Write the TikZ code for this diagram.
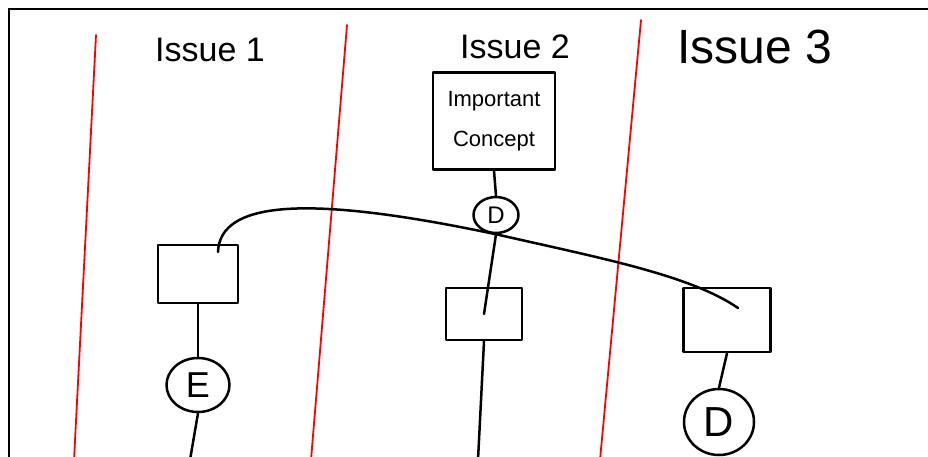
\documentclass[tikz,border=0pt]{standalone}
\usepackage{fontspec}
\setmainfont{Liberation Sans}
\usetikzlibrary{shapes.geometric}
\begin{document}
\begin{tikzpicture}[x=1pt,y=-1pt,
  ink/.style={line width=2.5pt,black,line cap=round,line join=round},
  divider/.style={line width=1.8pt,red,line cap=round},
  frame/.style={line width=1.5pt,black},
  sqbox/.style={draw,ink,rectangle,inner sep=0pt},
  circ/.style={draw,ink,ellipse,inner sep=0pt,font=\fontsize{36}{38}\selectfont},
  title/.style={font=\fontsize{34}{36}\selectfont,anchor=center}]
\useasboundingbox (0,0) rectangle (928,457);
% frame
\draw[frame] (9,470) -- (9,9) -- (940,9);
% red dividers
\draw[divider] (96,35) -- (74,460);
\draw[divider] (347,25) -- (311,460);
\draw[divider] (641,20) -- (600,460);
% titles
\node[title] (t1) at (210,50) {Issue 1};
\node[title] (t2) at (515,47) {Issue 2};
\node[title,font=\fontsize{48}{50}\selectfont] (t3) at (755,47) {Issue 3};
% important concept
\node[sqbox,minimum width=122pt,minimum height=97pt,align=center,
      font=\fontsize{22}{40}\selectfont] (concept) at (494,121) {Important\\Concept};
\node[circ,minimum width=45pt,minimum height=36pt,font=\fontsize{24}{26}\selectfont] (dsmall) at (496,215) {D};
% boxes
\node[sqbox,minimum width=80pt,minimum height=58pt] (box1) at (198,274) {};
\node[sqbox,minimum width=76pt,minimum height=52pt] (box2) at (484,314) {};
\node[sqbox,minimum width=87pt,minimum height=64pt] (box3) at (727,320) {};
% circles
\node[circ,minimum width=63pt,minimum height=54pt] (ecirc) at (198,385) {E};
\node[circ,minimum width=70pt,minimum height=66pt,font=\fontsize{42}{44}\selectfont] (dbig) at (719,422) {D};
% free ends
\coordinate (eend) at (190,460);
\coordinate (b2end) at (478,460);
\coordinate (cstart) at (218,252);
\coordinate (cend) at (738,308);
% connectors
\draw[ink] (concept.south) -- (dsmall.north);
\draw[ink] (dsmall.south) -- (box2.center);
\draw[ink] (box1.south) -- (ecirc.north);
\draw[ink] (ecirc.south) -- (eend);
\draw[ink] (box2.south) -- (b2end);
\draw[ink] (box3.south) -- (dbig.north);
\draw[ink] (cstart) .. controls (220,200) and (310,195) .. (dsmall.south)
  .. controls (600,258) and (690,275) .. (cend);
\end{tikzpicture}
\end{document}
